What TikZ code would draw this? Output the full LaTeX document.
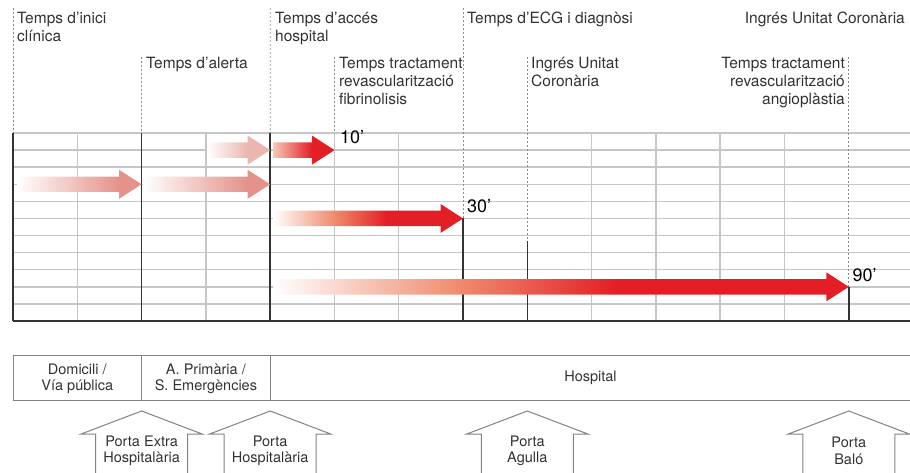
\documentclass[tikz,border=0pt]{standalone}
\usepackage{fontspec}
\setmainfont{TeX Gyre Heros}
\usetikzlibrary{calc}
\definecolor{gridgray}{RGB}{198,198,198}
\definecolor{strokedark}{RGB}{51,51,51}
\definecolor{dashgray}{RGB}{140,140,140}
\definecolor{boxgray}{RGB}{130,130,130}
\definecolor{labelgray}{RGB}{50,50,50}
\definecolor{alarmred}{RGB}{227,30,36}
\definecolor{lightpink}{RGB}{235,182,174}
\definecolor{salmonpink}{RGB}{228,146,138}
\definecolor{salmon}{RGB}{240,140,110}
\definecolor{peach}{RGB}{248,200,180}
\pgfdeclarehorizontalshading{fadepink}{100bp}{color(0bp)=(white); color(25bp)=(white); color(57bp)=(lightpink); color(100bp)=(lightpink)}
\pgfdeclarehorizontalshading{fadesalmon}{100bp}{color(0bp)=(white); color(25bp)=(white); color(66bp)=(salmonpink); color(100bp)=(salmonpink)}
\pgfdeclarehorizontalshading{shortred}{100bp}{color(0bp)=(peach); color(25bp)=(peach); color(57bp)=(alarmred); color(100bp)=(alarmred)}
\pgfdeclarehorizontalshading{longred}{100bp}{color(0bp)=(white); color(25bp)=(white); color(41bp)=(salmon); color(55bp)=(alarmred); color(100bp)=(alarmred)}

\begin{document}
\begin{tikzpicture}[x=1pt,y=-1pt,
   gridline/.style={draw=gridgray,line width=1.5pt},
   solidline/.style={draw=strokedark,line width=1.4pt},
   guide/.style={draw=dashgray,line width=0.8pt,dash pattern=on 2pt off 2pt},
   toplabel/.style={inner sep=0pt,align=left,text=labelgray,font=\fontsize{15.5}{18}\selectfont},
   minutes/.style={inner sep=0pt,anchor=base west,text=black,font=\fontsize{18}{20}\selectfont},
   placebox/.style={draw=boxgray,line width=1pt},
   placelabel/.style={inner sep=0pt,align=center,text=labelgray,font=\fontsize{14.5}{16.5}\selectfont}]
\useasboundingbox (0,0) rectangle (910,473);

\foreach \k in {0,...,13}
  \coordinate (c\k) at ({13+\k*64.29},133);
\coordinate (base) at (0,321);
\coordinate (s1) at (207,150.1);   \coordinate (t1) at (270.2,150.1);
\coordinate (s2) at (273,150.1);   \coordinate (t2) at (334.5,150.1);
\coordinate (s3) at (17,184.3);    \coordinate (t3) at (141.6,184.3);
\coordinate (s4) at (143.5,184.3); \coordinate (t4) at (270.2,184.3);
\coordinate (s5) at (273,218.45);  \coordinate (t5) at (463,218.45);
\coordinate (s6) at (273,286.8);   \coordinate (t6) at (848.8,286.8);
\coordinate (coro) at (527.3,241);

% grid
\foreach \i in {0,...,10}
  \draw[gridline] (13,{133+\i*17.09}) -- (910,{133+\i*17.09});
\foreach \k in {1,3,5,6,9,10,11,12}
  \draw[gridline] (c\k) -- (c\k |- base);

% time marks
\draw[guide] (13,8) -- (c0);
\draw[guide] (141.6,57) -- (c2);
\draw[guide] (270.2,8) -- (c4);
\draw[guide] (334.5,57) -- (c5);
\draw[guide] (463,8) -- (t5);
\draw[guide] (527.3,57) -- (coro);
\draw[guide] (848.8,57) -- (t6);

\foreach \k in {0,2,4}
  \draw[solidline] (c\k) -- (c\k |- base);
\draw[solidline] (t5) -- (t5 |- base);
\draw[solidline] (coro) -- (coro |- base);
\draw[solidline] (t6) -- (t6 |- base);
\draw[solidline] (13,321) -- (910,321);

% arrows
\foreach \s/\t/\sh in {s1/t1/fadepink, s2/t2/shortred, s3/t3/fadesalmon,
                       s4/t4/fadesalmon, s5/t5/longred, s6/t6/longred}
  \shade[shading=\sh] let \p1=(\s), \p2=(\t) in
    (\x1,\y1+7.7pt) -- (\x2-22.5pt,\y1+7.7pt) -- (\x2-22.5pt,\y1+14.5pt) -- (\x2,\y1)
    -- (\x2-22.5pt,\y1-14.5pt) -- (\x2-22.5pt,\y1-7.7pt) -- (\x1,\y1-7.7pt) -- cycle;

\node[toplabel,anchor=base west] (inici) at (17,42) {Temps d’inici\\clínica};
\node[toplabel,anchor=base west] (alerta) at (146,69) {Temps d’alerta};
\node[toplabel,anchor=base west] (acces) at (275,42) {Temps d’accés\\hospital};
\node[toplabel,anchor=base west] (fibrino) at (339,105) {Temps tractament\\revascularització\\fibrinolisis};
\node[toplabel,anchor=base west] (ecg) at (467,24) {Temps d’ECG i diagnòsi};
\node[toplabel,anchor=base east] (ingres) at (905,24) {Ingrés Unitat Coronària};
\node[toplabel,anchor=base west] (unitat) at (531,87) {Ingrés Unitat\\Coronària};
\node[toplabel,anchor=base east,align=right] (angio) at (845,105) {Temps tractament\\revascularització\\angioplàstia};

\node[minutes] (m10) at (340,144) {10’};
\node[minutes] (m30) at (467,212.7) {30’};
\node[minutes] (m90) at (852.5,281.7) {90’};

% places
\draw[placebox] (910,355) -- (13,355) -- (13,400) -- (910,400);
\draw[placebox] (c2 |- 0,355) -- (c2 |- 0,400);
\draw[placebox] (c4 |- 0,355) -- (c4 |- 0,400);
\node[placelabel] (domicili) at (77.3,379) {Domicili /\\Vía pública};
\node[placelabel] (primaria) at (205.9,379) {A. Primària /\\S. Emergències};
\node[placelabel,anchor=base] (hospital) at (590.5,381.7) {Hospital};

\foreach \cx/\nm/\txt in {141.6/extra/{Porta Extra\\Hospitalària}, 270.2/porta/{Porta\\Hospitalària},
                          527.3/agulla/{Porta\\Agulla}, 848.8/balo/{Porta\\Baló}} {
  \draw[placebox] (\cx-46,476) -- (\cx-46,434) -- (\cx-60.5,434) -- (\cx,411)
    -- (\cx+60.5,434) -- (\cx+46,434) -- (\cx+46,476);
  \node[placelabel] (\nm) at (\cx,451) {\txt};
}
\end{tikzpicture}
\end{document}
